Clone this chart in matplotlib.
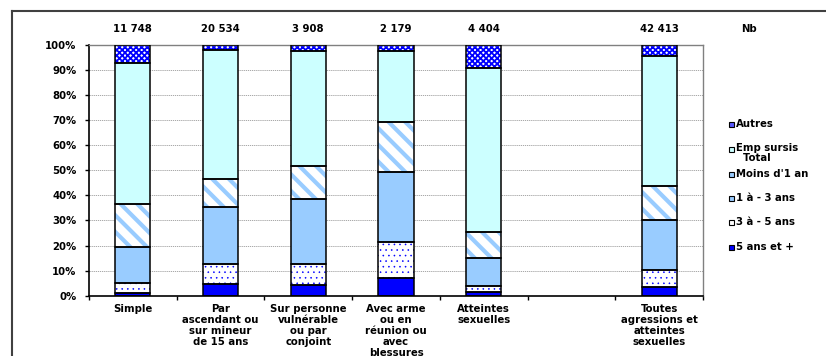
import matplotlib
matplotlib.use("Agg")
import matplotlib.pyplot as plt
from matplotlib.patches import Rectangle
from matplotlib.lines import Line2D
import numpy as np

plt.rcParams['font.family'] = ['DejaVu Sans']
plt.rcParams['font.weight'] = 'bold'
plt.rcParams['font.size'] = 7.3

# catégories (la 6e case reste vide)
categories = ["Simple", "Par\nascendant ou\nsur mineur\nde 15 ans",
              "Sur personne\nvulnérable\nou par\nconjoint",
              "Avec arme\nou en\nréunion ou\navec\nblessures",
              "Atteintes\nsexuelles", "Toutes\nagressions et\natteintes\nsexuelles"]
positions = [0, 1, 2, 3, 4, 6]
effectifs = ["11 748", "20 534", "3 908", "2 179", "4 404", "42 413"]

# parts en % (de bas en haut)
ans5_plus = [1.2, 4.6, 4.2, 6.9, 1.5, 3.6]
ans3_5 = [3.8, 7.9, 8.4, 14.6, 2.5, 6.6]
ans1_3 = [14.6, 23.0, 26.1, 27.8, 11.0, 20.0]
moins_1an = [17.0, 11.2, 13.2, 20.0, 10.3, 13.4]
emp_sursis = [56.1, 51.3, 45.7, 28.3, 65.4, 52.0]
autres = [7.3, 2.0, 2.4, 2.4, 9.3, 4.4]

series = [
    ("5 ans et +", ans5_plus, dict(fc="#0000FF")),
    ("3 à - 5 ans", ans3_5, dict(fc="white", hatch="...", hc="#0000FF", hlw=0.4)),
    ("1 à - 3 ans", ans1_3, dict(fc="#99CCFF")),
    ("Moins d'1 an", moins_1an, dict(fc="white", hatch="\\\\", hc="#99CCFF", hlw=3.0)),
    ("Emp sursis\n  Total", emp_sursis, dict(fc="#CCFFFF")),
    ("Autres", autres, dict(fc="white", hatch="xxxxxx", hc="#0000FF", hlw=1.3)),
]

fig = plt.figure(figsize=(8.26, 3.56), dpi=100)
ax = fig.add_axes([89/826, 60.3/356, 614/826, 250.7/356])

bottom = np.zeros(len(positions))
for name, vals, st in series:
    vals = np.array(vals)
    if "hatch" in st:
        plt.rcParams['hatch.linewidth'] = st["hlw"]
        bars = ax.bar(positions, vals, 0.4, bottom=bottom, color=st["fc"],
                      edgecolor=st["hc"], hatch=st["hatch"], linewidth=0, zorder=2)
        for b in bars:
            if hasattr(b, "set_hatch_linewidth"):
                b.set_hatch_linewidth(st["hlw"])
    else:
        ax.bar(positions, vals, 0.4, bottom=bottom, color=st["fc"],
               linewidth=0, zorder=2)
    # contour noir
    ax.bar(positions, vals, 0.4, bottom=bottom, fill=False,
           edgecolor="black", linewidth=1.1, zorder=3)
    bottom += vals

ax.set_xlim(-0.5, 6.5)
ax.set_ylim(0, 100)
ax.set_yticks(np.arange(0, 101, 10))
ax.set_yticklabels([f"{v}%" for v in range(0, 101, 10)], fontweight='bold')
ax.yaxis.grid(True, color="#9a9a9a", linewidth=0.6, linestyle=(0, (1.5, 1)))
ax.set_axisbelow(True)

ax.set_xticks(positions)
ax.set_xticklabels(categories, fontweight='bold', linespacing=1.12)
ax.set_xticks(np.arange(-0.5, 7, 1), minor=True)
ax.tick_params(axis='x', which='major', length=0, pad=6)
ax.tick_params(axis='x', which='minor', length=3, width=1, direction='out')
ax.tick_params(axis='y', length=3, width=1, pad=6)

for sp in ["top", "right"]:
    ax.spines[sp].set_color("#808080")
    ax.spines[sp].set_linewidth(1)
for sp in ["left", "bottom"]:
    ax.spines[sp].set_color("black")
    ax.spines[sp].set_linewidth(1.2)

# effectifs au-dessus des barres
for x, n in zip(positions, effectifs):
    ax.text(x, 1.064, n, transform=ax.get_xaxis_transform(), ha="center",
            va="center", fontweight="bold", clip_on=False)
fig.text(749/826, 1 - 29/356, "Nb", ha="center", va="center", fontweight="bold")

# légende
leg_y = [124, 149, 174, 198, 222, 247]
leg_items = [
    ("Autres", "#5A5AFF"),
    ("Emp sursis\n  Total", "#CCFFFF"),
    ("Moins d'1 an", "#99CCFF"),
    ("1 à - 3 ans", "#99CCFF"),
    ("3 à - 5 ans", "white"),
    ("5 ans et +", "#0000FF"),
]
for (lab, col), yy in zip(leg_items, leg_y):
    fig.add_artist(Rectangle((729/826, 1 - (yy + 2.5)/356), 5/826, 5/356,
                             facecolor=col, edgecolor="black", linewidth=0.8,
                             transform=fig.transFigure))
    if "\n" in lab:
        fig.text(736/826, 1 - (yy - 5.5)/356, lab, ha="left", va="top",
                 fontweight="bold", linespacing=0.95)
    else:
        fig.text(736/826, 1 - yy/356, lab, ha="left", va="center", fontweight="bold")

# cadre extérieur
fig.add_artist(Line2D([12/826, 12/826], [0, 1 - 11/356], color="#404040",
                      linewidth=1.5, transform=fig.transFigure))
fig.add_artist(Line2D([12/826, 1], [1 - 11/356, 1 - 11/356], color="#404040",
                      linewidth=1.5, transform=fig.transFigure))

fig.savefig("out.png", dpi=100)
